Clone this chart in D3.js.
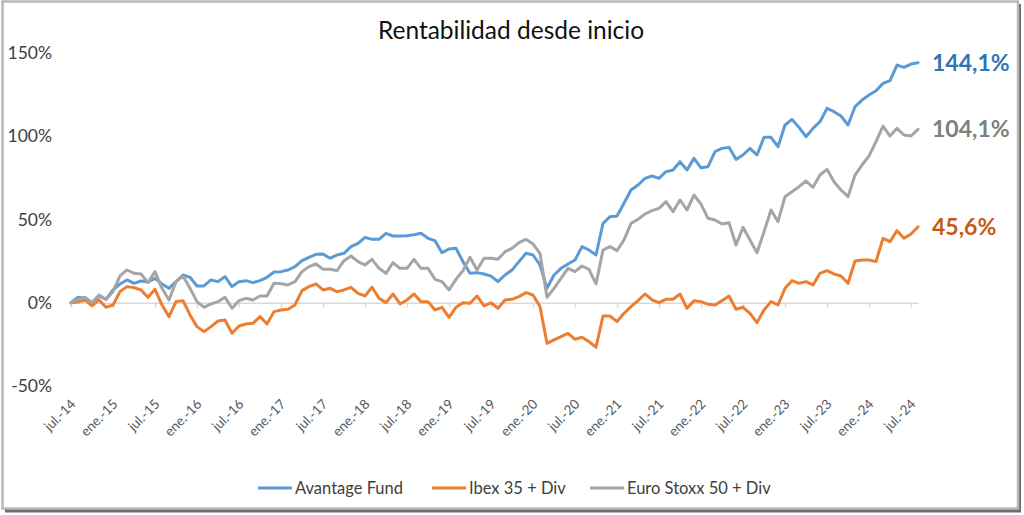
<!DOCTYPE html>
<html>
<head>
<meta charset="utf-8">
<script src="https://cdn.jsdelivr.net/npm/d3@7"></script>
<style>
  html, body { margin: 0; padding: 0; background: #fff; }
  svg { display: block; font-family: Lato, "Open Sans", sans-serif; }
</style>
</head>
<body>
<svg id="chart" width="1024" height="515"></svg>
<script>
// Monthly returns since inception (%), jul-14 .. ago-24
var months = d3.timeMonth.range(new Date(2014, 6, 1), new Date(2024, 8, 1));

var avantage = [
  0, 3.3, 2.7, 0.1, 4.1, 2.1, 7.7, 11.3, 13.7, 11.7,
  13.1, 12.5, 14.7, 11.3, 8.7, 12.7, 16.7, 15.3, 10.1, 10.1,
  13.7, 12.7, 15.7, 9.7, 12.7, 13.3, 12.1, 13.3, 15.3, 18.5,
  18.7, 19.7, 21.7, 25.3, 27.3, 29.1, 29.3, 26.7, 28.7, 29.7,
  33.7, 35.7, 39.3, 38.1, 38.1, 41.7, 40.1, 40.1, 40.3, 40.9,
  41.7, 38.7, 37.3, 30.1, 32.3, 32.7, 24.7, 17.7, 18.1, 17.3,
  16, 12.7, 16.7, 19.7, 24.7, 29.7, 28.7, 22.7, 8.7, 16.7,
  20.7, 23.3, 25.7, 33.7, 31.7, 28.7, 47.7, 51.7, 52.1, 59.7,
  67.7, 70.7, 74.7, 76.1, 74.7, 78.7, 79.7, 84.7, 79.7, 86.7,
  81, 81.7, 90.7, 92.7, 93.3, 86.1, 88.7, 92.7, 88.7, 99.3,
  99.3, 93.7, 106.7, 110.1, 105.3, 99.7, 104.7, 108.7, 116.7, 114.7,
  112.1, 106.7, 117.7, 121.7, 124.7, 127.3, 131.7, 133.3, 142.7, 141.3,
  143.3, 144.1
];

var ibex = [
  0, 0.5, 1.7, -1.9, 1.7, -2.7, -1.3, 6.7, 9.7, 9.1,
  7.7, 3.3, 8.1, -1.3, -8.3, 0.7, 1.3, -7.3, -14.3, -17.3,
  -14.3, -10.9, -10.3, -18.3, -13.9, -12.7, -12.3, -8.3, -12.7, -5.3,
  -4.3, -3.9, -1.3, 7.3, 9.7, 11.3, 7.7, 8.7, 6.7, 7.7,
  9.3, 5.7, 4.1, 9.3, 2.7, 0.1, 5.3, -0.7, 1.7, 5.3,
  0.7, 0.7, -4.3, -2.7, -8.7, -2.7, 0.1, -0.3, 4.1, -1.9,
  0, -3.3, 1.7, 2.1, 3.7, 6.1, 4.7, -2.3, -24.3, -22.3,
  -20.3, -18.3, -21.9, -20.7, -23.3, -26.7, -7.9, -7.9, -11.3, -6.3,
  -2.3, 1.3, 5.3, 1.7, 0.1, 2.1, 2.1, 5.3, -3.3, 1.3,
  0.7, -0.9, -1.3, 1.3, 4.1, -3.9, -2.7, -6.3, -11.9, -4.3,
  0.7, -1.3, 8.7, 13.3, 11.7, 12.7, 10.7, 17.7, 19.3, 17.3,
  16.1, 11.7, 25.1, 25.7, 25.7, 24.7, 38.7, 36.7, 43.3, 38.7,
  41.3, 45.6
];

var stoxx = [
  0, 2.1, 3.3, 0, 4.7, 2.1, 6.7, 16.1, 19.7, 17.7,
  17.3, 12.1, 18.7, 8.7, 1.7, 12.7, 16.1, 8.7, 0.7, -2.7,
  -0.7, 0.7, 3.3, -3.3, 1.3, 2.7, 1.7, 4.1, 4.1, 11.7,
  11.5, 10.7, 12.7, 18.7, 21.7, 23.3, 20.1, 20.1, 19.3, 25.3,
  28.1, 24.7, 22.7, 26.1, 20.7, 17.7, 24.1, 20.7, 20.7, 26.1,
  20.7, 20.7, 14.1, 12.7, 7.7, 14.1, 19.3, 27.3, 19.7, 26.7,
  26.7, 26.1, 30.7, 32.7, 36.1, 38.1, 35.3, 29.7, 3.3, 8.7,
  14.7, 20.7, 18.7, 22.1, 20.1, 11.3, 31.7, 33.7, 31.3, 37.7,
  47.7, 50.1, 53.3, 55.3, 56.7, 60.7, 54.7, 61.7, 55.7, 64.7,
  59.2, 50.7, 49.7, 47.3, 48.1, 34.7, 45.3, 37.7, 30.1, 42.7,
  55.7, 48.7, 63.7, 66.7, 69.7, 73.1, 69.3, 76.7, 80.1, 72.7,
  67.7, 63.7, 76.7, 82.7, 88.1, 96.7, 106.1, 100.1, 104.7, 100.7,
  100.1, 104.1
];

var tickLabels = [
  "jul.-14", "ene.-15", "jul.-15", "ene.-16", "jul.-16", "ene.-17", "jul.-17",
  "ene.-18", "jul.-18", "ene.-19", "jul.-19", "ene.-20", "jul.-20", "ene.-21",
  "jul.-21", "ene.-22", "jul.-22", "ene.-23", "jul.-23", "ene.-24", "jul.-24"
];
var yTicks = [-50, 0, 50, 100, 150];

var seriesNames = ["Avantage Fund", "Ibex 35 + Div", "Euro Stoxx 50 + Div"];
var seriesValues = [avantage, ibex, stoxx];
var lineColors = ["#5B9BD5", "#ED7D31", "#A5A5A5"];
var endColors = ["#2E75B6", "#C55A11", "#7F7F7F"];
var endLabels = ["144,1%", "45,6%", "104,1%"];

var svg = d3.select("#chart");

// frame with a dark shadow on the right and bottom
svg.append("rect").attr("x", 5).attr("y", 4).attr("width", 1016).attr("height", 508.5)
    .attr("fill", "#6e6e6e");
svg.append("rect").attr("x", 2.5).attr("y", 1.5).attr("width", 1015.5).attr("height", 507)
    .attr("fill", "#fff").attr("stroke", "#b8b8b8").attr("stroke-width", 2.5);

var fmtKey = d3.timeFormat("%Y-%m");
var keys = months.map(fmtKey);

var x = d3.scalePoint().domain(keys).range([71, 918]);
var y = d3.scaleLinear().domain([-50, 150]).range([386.1, 52.9]);

svg.append("text")
    .attr("x", 511).attr("y", 39)
    .attr("text-anchor", "middle")
    .attr("font-size", 24.5)
    .attr("fill", "#111")
    .text("Rentabilidad desde inicio");

// y labels (no gridlines)
svg.append("g").selectAll("text")
    .data(yTicks)
    .enter().append("text")
      .attr("x", 52)
      .attr("y", function(d) { return y(d); })
      .attr("dy", "0.35em")
      .attr("text-anchor", "end")
      .attr("font-size", 17.5)
      .attr("fill", "#404040")
      .text(function(d) { return d + "%"; });

// x axis at 0%
var xAxis = svg.append("g")
    .attr("transform", "translate(0," + y(0) + ")")
    .call(d3.axisBottom(x)
      .tickValues(keys.filter(function(k, i) { return i % 6 === 0; }))
      .tickFormat(function(k, i) { return tickLabels[i]; })
      .tickSize(5)
      .tickSizeOuter(0));

xAxis.select(".domain").attr("stroke", "#d9d9d9").attr("stroke-width", 1.5);
xAxis.selectAll(".tick line").attr("stroke", "#d9d9d9").attr("stroke-width", 1.5);
xAxis.selectAll(".tick text")
    .attr("x", null).attr("y", null).attr("dy", null)
    .attr("text-anchor", "end")
    .attr("transform", "translate(5," + (405 - y(0)) + ") rotate(-45)")
    .attr("font-size", 13.5)
    .attr("font-family", "Lato, sans-serif")
    .attr("fill", "#595959");

var line = d3.line()
    .x(function(d, i) { return x(keys[i]); })
    .y(function(d) { return y(d); });

svg.append("g").selectAll("path")
    .data(seriesValues)
    .enter().append("path")
      .attr("d", line)
      .attr("fill", "none")
      .attr("stroke", function(d, i) { return lineColors[i]; })
      .attr("stroke-width", 3)
      .attr("stroke-linejoin", "round")
      .attr("stroke-linecap", "round");

// end values
svg.append("g").selectAll("text")
    .data(seriesValues)
    .enter().append("text")
      .attr("x", 932)
      .attr("y", function(d) { return y(d[d.length - 1]); })
      .attr("dy", "0.35em")
      .attr("font-size", 23)
      .attr("font-weight", "bold")
      .attr("fill", function(d, i) { return endColors[i]; })
      .text(function(d, i) { return endLabels[i]; });

// legend
var legendX = [258, 432, 590];
var legend = svg.append("g").selectAll(".legend")
    .data(seriesNames)
    .enter().append("g")
      .attr("class", "legend")
      .attr("transform", function(d, i) { return "translate(" + legendX[i] + ",488)"; });

legend.append("line")
    .attr("x1", 0).attr("x2", 34)
    .attr("stroke", function(d, i) { return lineColors[i]; })
    .attr("stroke-width", 3);

legend.append("text")
    .attr("x", 37)
    .attr("dy", "0.35em")
    .attr("font-size", 16.5)
    .attr("fill", "#404040")
    .text(function(d) { return d; });
</script>
</body>
</html>
